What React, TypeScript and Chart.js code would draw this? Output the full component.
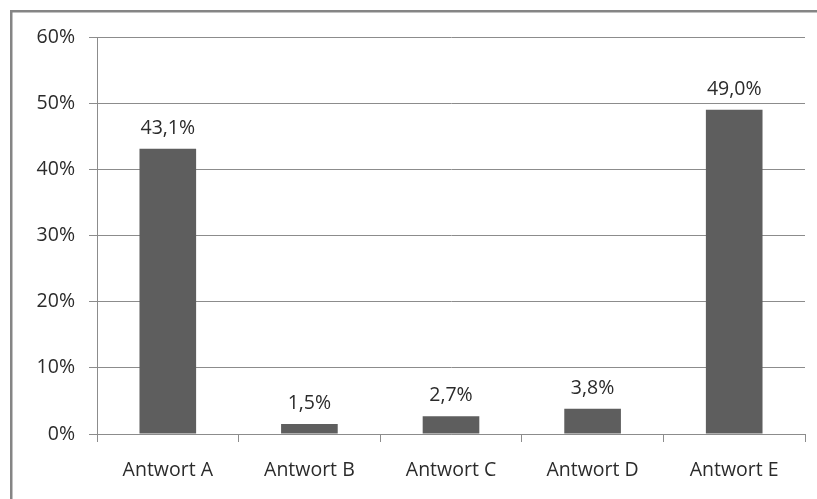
import React, { useEffect, useRef } from "react";
import { Chart, registerables } from "chart.js";

Chart.register(...registerables);

const categories = ["Antwort A", "Antwort B", "Antwort C", "Antwort D", "Antwort E"];
const values = [43.1, 1.5, 2.7, 3.8, 49.0];
const yTicks = [0, 10, 20, 30, 40, 50, 60];

const FONT = "'Open Sans', 'Noto Sans', sans-serif";
const TEXT = "#2b2b2b";
const GRID = "#8c8c8c";

const frame = {
  id: "frame",
  beforeDraw(chart: any) {
    const ctx = chart.ctx;
    ctx.save();
    ctx.fillStyle = "#ffffff";
    ctx.fillRect(0, 0, chart.width, chart.height);
    ctx.strokeStyle = "#858585";
    ctx.lineWidth = 2.5;
    ctx.beginPath();
    ctx.moveTo(11.25, chart.height + 5);
    ctx.lineTo(11.25, 11.25);
    ctx.lineTo(chart.width + 5, 11.25);
    ctx.stroke();
    ctx.restore();
  },
};

const labels = {
  id: "valueLabels",
  afterDatasetsDraw(chart: any) {
    const ctx = chart.ctx;
    const meta = chart.getDatasetMeta(0);
    ctx.save();
    ctx.font = `19.5px ${FONT}`;
    ctx.fillStyle = TEXT;
    ctx.textAlign = "center";
    ctx.textBaseline = "alphabetic";
    meta.data.forEach((bar: any, i: number) => {
      const v = values[i];
      ctx.fillText(v.toFixed(1).replace(".", ",") + "%", bar.x, bar.y - 15);
    });
    ctx.restore();
  },
};

export default function App() {
  const ref = useRef<HTMLCanvasElement>(null);
  useEffect(() => {
    document.body.style.margin = "0";
    const chart = new Chart(ref.current!, {
      type: "bar",
      data: {
        labels: categories,
        datasets: [
          {
            data: values,
            backgroundColor: "#5e5e5e",
            borderWidth: 0,
            categoryPercentage: 1,
            barPercentage: 0.4,
          },
        ],
      },
      options: {
        responsive: false,
        animation: false,
        events: [],
        layout: { padding: { top: 37, right: 12, left: 0, bottom: 0 } },
        plugins: { legend: { display: false }, tooltip: { enabled: false } },
        scales: {
          x: {
            grid: {
              offset: true,
              drawOnChartArea: false,
              drawTicks: true,
              tickLength: 8,
              color: GRID,
            },
            border: { color: GRID, width: 1 },
            ticks: { color: TEXT, font: { family: FONT, size: 19.5 }, padding: 17 },
            afterFit(scale: any) {
              scale.height = 65;
            },
          },
          y: {
            min: 0,
            max: 60,
            afterBuildTicks(scale: any) {
              scale.ticks = yTicks.map((v) => ({ value: v }));
            },
            grid: { color: GRID, tickLength: 8, drawTicks: true },
            border: { color: GRID, width: 1 },
            ticks: {
              color: TEXT,
              font: { family: FONT, size: 19.5 },
              padding: 14,
              callback: (v: any) => v + "%",
            },
            afterFit(scale: any) {
              scale.width = 97;
            },
          },
        },
      },
      plugins: [frame, labels],
    });
    return () => chart.destroy();
  }, []);
  return <canvas ref={ref} width={817} height={499} style={{ display: "block" }} />;
}
